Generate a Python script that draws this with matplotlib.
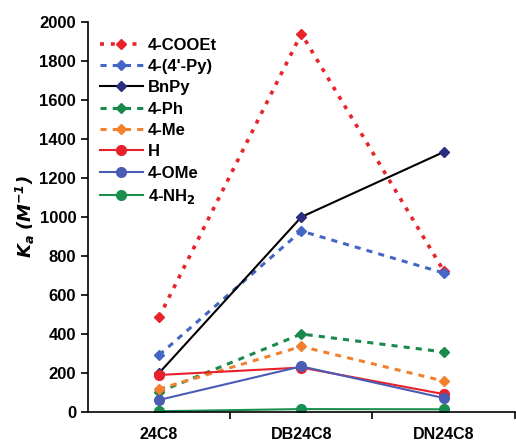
import matplotlib.pyplot as plt
import numpy as np

plt.rcParams['font.family'] = ['Liberation Sans', 'DejaVu Sans']
plt.rcParams['font.weight'] = 'bold'

hosts = ["24C8", "DB24C8", "DN24C8"]
series = ["4-COOEt", "4-(4'-Py)", "BnPy", "4-Ph", "4-Me", "H", "4-OMe", "4-NH$_2$"]
cooet = [487, 1940, 725]
py = [292, 928, 713]
bnpy = [200, 1000, 1333]
ph = [103, 400, 308]
me = [118, 336, 159]
h = [190, 228, 92]
ome = [62, 234, 72]
nh2 = [4, 15, 14]

styles = [
    (cooet, "#e8232b", (0, (1.1, 1.9)), "D", 2.6),
    (py, "#4466c4", (0, (2.0, 2.0)), "D", 2.2),
    (bnpy, "#000000", "-", "D", 1.5),
    (ph, "#1a8a4c", (0, (2.0, 2.0)), "D", 2.2),
    (me, "#f2802e", (0, (2.0, 2.0)), "D", 2.2),
    (h, "#e8202a", "-", "o", 1.5),
    (ome, "#4a5cb4", "-", "o", 1.5),
    (nh2, "#1a8f50", "-", "o", 1.5),
]
marker_colors = [None, None, "#2b2d80", None, None, None, None, None]

fig = plt.figure(figsize=(5.16, 4.46), dpi=100)
ax = fig.add_axes([0.1705, 0.0762, 0.827, 0.8745])
x = np.arange(len(hosts)) + 0.5
for (vals, c, ls, mk, lw), mc, name in zip(styles, marker_colors, series):
    ms = 5.5 if mk == "D" else 7
    ax.plot(x, vals, color=c, linestyle=ls, linewidth=lw, marker=mk,
            markersize=ms, markerfacecolor=mc or c, markeredgecolor=mc or c,
            label=name)

ax.set_xlim(0, 3)
ax.set_ylim(0, 2000)
ax.set_yticks(range(0, 2001, 200))
ax.set_xticks(x)
ax.set_xticklabels(hosts)
ax.set_xticks([1, 2, 3], minor=True)
ax.tick_params(axis='x', which='major', length=0, pad=11, labelsize=11.5)
ax.tick_params(axis='x', which='minor', length=5, width=1.2, direction='out')
ax.tick_params(axis='y', length=5, width=1.2, direction='out', labelsize=12)
for s in ['top', 'right']:
    ax.spines[s].set_visible(False)
for s in ['left', 'bottom']:
    ax.spines[s].set_linewidth(1.2)
ax.set_ylabel(r"$\bfit{K}_{\bfit{a}}$ $\bfit{(M}^{\bfit{-1}}\bfit{)}$", fontsize=13, labelpad=2)

leg = ax.legend(loc='upper left', frameon=False, fontsize=12,
                handlelength=2.6, handletextpad=0.3, labelspacing=0.38,
                borderaxespad=0.3, bbox_to_anchor=(0.0, 0.99))
fig.savefig("out.png", dpi=100)
